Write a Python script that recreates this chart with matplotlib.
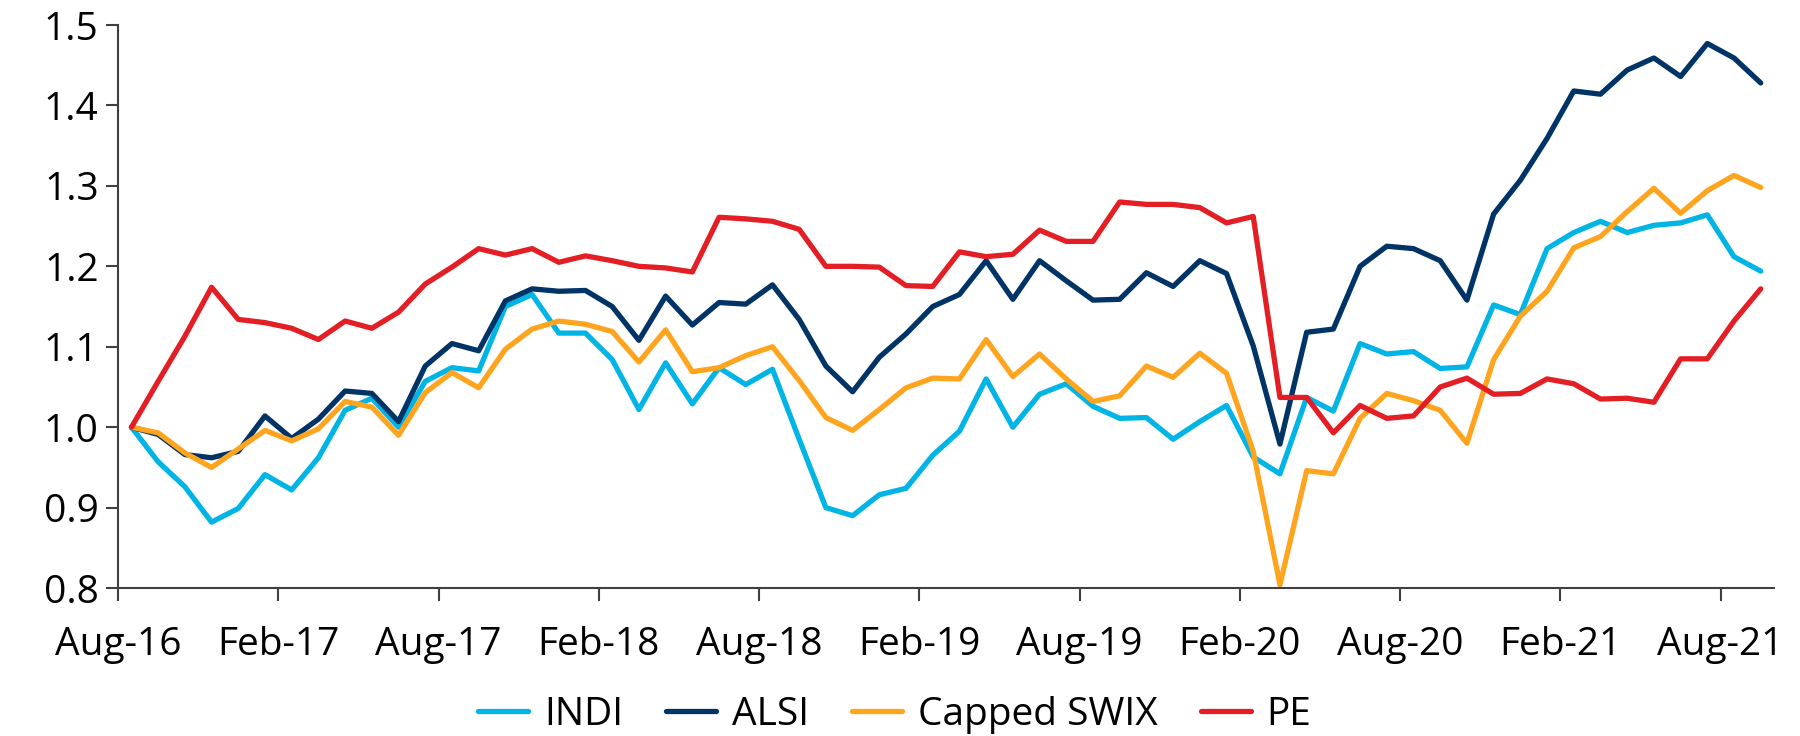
import numpy as np
import matplotlib.pyplot as plt

# monthly index levels, Aug-16 .. Sep-21 (rebased to 1.0)
indi = [1.000, 0.957, 0.926, 0.882, 0.899, 0.941, 0.922, 0.962, 1.021, 1.036,
        1.000, 1.057, 1.074, 1.070, 1.150, 1.165, 1.117, 1.117, 1.084, 1.022,
        1.080, 1.029, 1.074, 1.053, 1.072, 0.985, 0.900, 0.890, 0.916, 0.924,
        0.965, 0.995, 1.060, 1.000, 1.041, 1.054, 1.026, 1.011, 1.012, 0.985,
        1.007, 1.027, 0.963, 0.942, 1.037, 1.020, 1.104, 1.091, 1.094, 1.073,
        1.075, 1.152, 1.140, 1.222, 1.242, 1.256, 1.242, 1.251, 1.254, 1.264,
        1.212, 1.194]
alsi = [1.000, 0.991, 0.966, 0.962, 0.970, 1.014, 0.986, 1.010, 1.045, 1.042,
        1.007, 1.076, 1.104, 1.095, 1.157, 1.172, 1.169, 1.170, 1.150, 1.108,
        1.163, 1.127, 1.155, 1.153, 1.177, 1.134, 1.076, 1.044, 1.087, 1.116,
        1.150, 1.165, 1.207, 1.159, 1.207, 1.182, 1.158, 1.159, 1.192, 1.175,
        1.207, 1.191, 1.101, 0.979, 1.118, 1.122, 1.200, 1.225, 1.222, 1.207,
        1.158, 1.265, 1.307, 1.359, 1.418, 1.414, 1.444, 1.459, 1.436, 1.477,
        1.459, 1.428]
swix = [1.000, 0.993, 0.968, 0.950, 0.973, 0.996, 0.983, 0.998, 1.032, 1.025,
        0.990, 1.043, 1.068, 1.049, 1.097, 1.122, 1.132, 1.128, 1.119, 1.081,
        1.121, 1.069, 1.074, 1.089, 1.100, 1.058, 1.012, 0.996, 1.022, 1.049,
        1.061, 1.060, 1.109, 1.063, 1.091, 1.060, 1.032, 1.039, 1.076, 1.062,
        1.092, 1.067, 0.970, 0.804, 0.946, 0.942, 1.011, 1.042, 1.033, 1.021,
        0.980, 1.084, 1.138, 1.169, 1.223, 1.237, 1.268, 1.297, 1.266, 1.294,
        1.313, 1.298]
pe = [1.000, 1.057, 1.113, 1.174, 1.134, 1.130, 1.123, 1.109, 1.132, 1.123,
      1.143, 1.178, 1.199, 1.222, 1.214, 1.222, 1.205, 1.213, 1.207, 1.200,
      1.198, 1.193, 1.261, 1.259, 1.256, 1.246, 1.200, 1.200, 1.199, 1.176,
      1.175, 1.218, 1.212, 1.215, 1.245, 1.231, 1.231, 1.280, 1.277, 1.277,
      1.273, 1.254, 1.262, 1.037, 1.037, 0.993, 1.027, 1.011, 1.014, 1.050,
      1.061, 1.041, 1.042, 1.060, 1.054, 1.035, 1.036, 1.031, 1.085, 1.085,
      1.132, 1.172]

tick_labels = ["Aug-16", "Feb-17", "Aug-17", "Feb-18", "Aug-18", "Feb-19",
               "Aug-19", "Feb-20", "Aug-20", "Feb-21", "Aug-21"]

series = [("INDI", indi, "#00B4E6"),
          ("ALSI", alsi, "#003366"),
          ("Capped SWIX", swix, "#FFA41E"),
          ("PE", pe, "#E31E24")]

plt.rcParams['font.family'] = ['Open Sans', 'DejaVu Sans']
fs = 28

fig = plt.figure(figsize=(18, 7.36), dpi=100)
ax = fig.add_axes([0.0656, 0.201, 0.92, 0.765])

x = np.arange(len(indi)) + 0.5  # points sit between the monthly ticks
for name, vals, col in series:
    ax.plot(x, vals, color=col, linewidth=3.8, label=name,
            solid_joinstyle='round', solid_capstyle='round')

ax.set_xlim(0, len(indi))
ax.set_ylim(0.8, 1.5)
ax.set_xticks(np.arange(len(tick_labels)) * 6)
ax.set_xticklabels(tick_labels)
ax.set_yticks(np.arange(0.8, 1.51, 0.1))
ax.set_yticklabels([f'{v:.1f}' for v in np.arange(0.8, 1.51, 0.1)])

for side in ['top', 'right']:
    ax.spines[side].set_visible(False)
for side in ['left', 'bottom']:
    ax.spines[side].set_color('#404040')
    ax.spines[side].set_linewidth(1.5)
ax.tick_params(axis='both', direction='out', length=9, width=1.5,
               color='#404040', labelsize=fs)
ax.tick_params(axis='x', pad=18)
ax.tick_params(axis='y', pad=5)

fig.legend(loc='center', bbox_to_anchor=(0.497, 0.029), ncol=4,
           frameon=False, fontsize=fs, handlelength=1.3, handletextpad=0.4,
           columnspacing=1.1, borderaxespad=0, borderpad=0)

fig.savefig('out.png', dpi=100)
